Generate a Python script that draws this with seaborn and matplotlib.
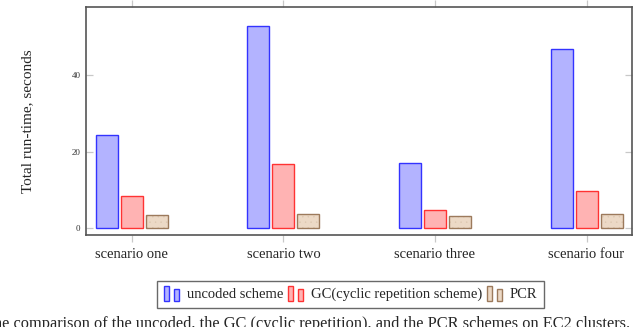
import numpy as np
import pandas as pd
import matplotlib
matplotlib.use("Agg")
import matplotlib.pyplot as plt
import seaborn as sns
from matplotlib.patches import Rectangle
from matplotlib.legend_handler import HandlerBase

# Datos
scenarios = ["scenario one", "scenario two", "scenario three", "scenario four"]
schemes = ["uncoded scheme", "GC(cyclic repetition scheme)", "PCR"]
uncoded = [24.3, 52.7, 17.0, 46.8]
gc = [8.5, 16.8, 4.9, 9.7]
pcr = [3.5, 3.9, 3.3, 3.8]

fill_colors = ["#b3b3ff", "#ffb3b3", "#ecd9c6"]
edge_colors = ["#3333ff", "#ff3333", "#9c7a5c"]

df = pd.DataFrame({
    "scenario": scenarios * 3,
    "scheme": [s for s in schemes for _ in scenarios],
    "time": uncoded + gc + pcr,
})


class TwoBarHandler(HandlerBase):
    # icono de leyenda estilo pgfplots: dos barras pequenas
    def create_artists(self, legend, orig_handle, xdescent, ydescent,
                       width, height, fontsize, trans):
        fc = orig_handle.get_facecolor()
        ec = orig_handle.get_edgecolor()
        w = width * 0.3
        r1 = Rectangle((-xdescent, -ydescent - 0.25 * height), w, height * 1.45,
                       facecolor=fc, edgecolor=ec, lw=1.0, transform=trans)
        r2 = Rectangle((-xdescent + width * 0.55, -ydescent - 0.25 * height), w * 0.85,
                       height * 1.1, facecolor=fc, edgecolor=ec, lw=1.0, transform=trans)
        return [r1, r2]


sns.set_theme(style="white")
plt.rcParams["font.family"] = ["Liberation Serif", "DejaVu Serif"]
plt.rcParams["hatch.linewidth"] = 0.3

fig = plt.figure(figsize=(6.4, 3.27), dpi=100)
ax = fig.add_axes([86 / 640, 92 / 327, 546 / 640, 228 / 327])

sns.barplot(data=df, x="scenario", y="time", hue="scheme", hue_order=schemes,
            palette=fill_colors, width=0.495, gap=0.12, legend=False, ax=ax,
            saturation=1)

for cont, ec in zip(ax.containers, edge_colors):
    for bar in cont:
        bar.set_edgecolor(ec)
        bar.set_linewidth(1.0)

# textura de puntos en PCR
for bar in ax.containers[2]:
    bar.set_hatch("...")
    bar._hatch_color = matplotlib.colors.to_rgba("#dcc6b0")

ax.set_xlim(-0.303, 3.30)
ax.set_ylim(-1.7, 57.7)
ax.set_yticks([0, 20, 40])
ax.set_xlabel("")
ax.set_ylabel("Total run-time, seconds", fontsize=11, labelpad=27)

for sp in ax.spines.values():
    sp.set_color("#555555")
    sp.set_linewidth(1.2)

ax.tick_params(axis="y", direction="in", length=5, width=0.9, color="#c8c8c8",
               left=True, right=True, labelsize=6.5, pad=4, labelcolor="#333333")
ax.tick_params(axis="x", direction="out", length=5, width=0.9, color="#c8c8c8",
               bottom=True, top=True, labelsize=10.5, pad=4)

handles = [Rectangle((0, 0), 1, 1, facecolor=fc, edgecolor=ec)
           for fc, ec in zip(fill_colors, edge_colors)]
leg = fig.legend(handles, schemes, loc="center", bbox_to_anchor=(350.5 / 640, 32.5 / 327),
                 ncol=3, frameon=True, fancybox=False, fontsize=10.5,
                 handler_map={Rectangle: TwoBarHandler()},
                 handlelength=1.3, handletextpad=0.3, columnspacing=0.3,
                 borderpad=0.45, borderaxespad=0)
leg.get_frame().set_edgecolor("#444444")
leg.get_frame().set_linewidth(1.0)

# pie de figura, cortado en el borde como en la referencia
fig.text(-16 / 640, 1 - 316 / 327,
         "The comparison of the uncoded, the GC (cyclic repetition), and the PCR schemes on EC2 clusters.",
         fontsize=11.8, va="top", ha="left")

fig.savefig("out.png", dpi=100)
